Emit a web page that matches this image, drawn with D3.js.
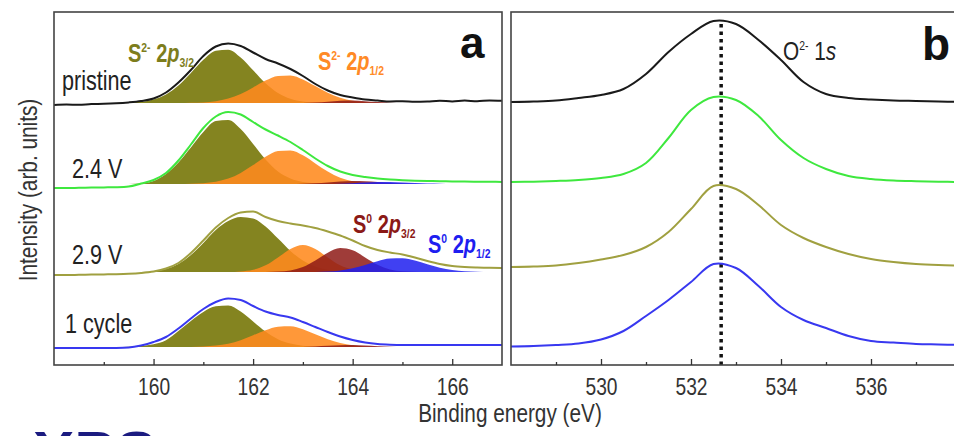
<!DOCTYPE html>
<html>
<head>
<meta charset="utf-8">
<script src="https://cdn.jsdelivr.net/npm/d3@7"></script>
<style>
  body { margin: 0; background: #fff; }
  svg { display: block; }
</style>
</head>
<body>
<svg id="chart" width="954" height="436"></svg>
<script>
// ---- panel a : S 2p region (binding energy, eV) ----
const energyA = [158, 158.25, 158.5, 158.75, 159, 159.25, 159.5, 159.75, 160, 160.25, 160.5, 160.75,
  161, 161.25, 161.5, 161.75, 162, 162.25, 162.5, 162.75, 163, 163.25, 163.5, 163.75,
  164, 164.25, 164.5, 164.75, 165, 165.25, 165.5, 165.75, 166, 166.25, 166.5, 166.75, 167];

// pristine
const pristineEnv  = [-2, -1.5, -1.8, -1, -0.8, -0.3, 0.6, 2, 4.5, 10.5, 20.5, 33, 47, 56.5, 59.5, 57, 50.5, 44, 39.5, 34, 27, 19, 12.5, 8, 5.5, 3.5, 2.5, 1.5, 1.8, 1.2, 1.5, 2.2, 1.6, 2.4, 1.8, 2.5, 2.2];
const pristineS32  = [0, 0, 0, 0, 0, 0, 0.4, 1.2, 3.5, 8.6, 17.5, 30, 43.2, 52.3, 53.3, 45.5, 32.8, 19.8, 10.1, 4.3, 1.5, 0.5, 0.1, 0, 0, 0, 0, 0, 0, 0, 0, 0, 0, 0, 0, 0, 0];
const pristineS12  = [0, 0, 0, 0, 0, 0, 0, 0, 0, 0, 0, 0.2, 0.6, 1.8, 4.5, 9.1, 15.6, 22.4, 27.1, 27.6, 23.6, 17, 10.3, 5.2, 2.2, 0.8, 0.2, 0, 0, 0, 0, 0, 0, 0, 0, 0, 0];
const pristineS032 = [0, 0, 0, 0, 0, 0, 0, 0, 0, 0, 0, 0, 0, 0, 0, 0, 0, 0, 0, 0, 0, 0.5, 1.2, 2.2, 2.5, 1.8, 0.9, 0.3, 0, 0, 0, 0, 0, 0, 0, 0, 0];

// 2.4 V
const v24Env  = [-4, -4, -3.8, -3.6, -3.4, -3.2, -2.5, 0.5, 4, 11, 23.5, 39.5, 56, 67.5, 72, 69.5, 62, 54.5, 48.5, 42, 34, 25.5, 18, 12.5, 9, 7, 5.5, 4.5, 3.8, 3.3, 3, 2.8, 2.6, 2.4, 2.3, 2.2, 2.1];
const v24S32  = [0, 0, 0, 0, 0, 0, 0, 0.5, 3, 10, 21.5, 36.5, 52, 63, 64, 55, 40, 24.5, 12.5, 5.5, 2, 0.7, 0.2, 0, 0, 0, 0, 0, 0, 0, 0, 0, 0, 0, 0, 0, 0];
const v24S12  = [0, 0, 0, 0, 0, 0, 0, 0, 0, 0, 0, 0.2, 0.8, 2.2, 5.4, 11.1, 18.9, 27.2, 32.9, 33.5, 28.7, 20.6, 12.5, 6.3, 2.7, 1, 0.3, 0, 0, 0, 0, 0, 0, 0, 0, 0, 0];
const v24S032 = [0, 0, 0, 0, 0, 0, 0, 0, 0, 0, 0, 0, 0, 0, 0, 0, 0, 0, 0, 0, 0.3, 0.8, 1.6, 2.5, 3, 2.7, 1.9, 1, 0.4, 0.1, 0, 0, 0, 0, 0, 0, 0];
const v24S012 = [0, 0, 0, 0, 0, 0, 0, 0, 0, 0, 0, 0, 0, 0, 0, 0, 0, 0, 0, 0, 0, 0, 0, 0.3, 0.8, 1.5, 2, 2, 1.5, 0.9, 0.4, 0.2, 0, 0, 0, 0, 0];

// 2.9 V
const v29Env  = [-3, -3, -2.8, -2.6, -2.4, -2.2, -1.8, -1, 0.5, 3.5, 9, 19, 31.5, 44.5, 54, 59.5, 60.5, 55, 51, 48.5, 46.5, 44, 40.5, 36.5, 31.5, 26, 22, 19.5, 17.5, 14.5, 11, 8, 6, 5, 4.5, 4.2, 4];
const v29S32  = [0, 0, 0, 0, 0, 0, 0, 0, 0.5, 3, 8, 17, 29, 42, 51, 55, 53.5, 45.5, 33.4, 21.1, 11.5, 5.4, 2.2, 0.8, 0.2, 0, 0, 0, 0, 0, 0, 0, 0, 0, 0, 0, 0];
const v29S12  = [0, 0, 0, 0, 0, 0, 0, 0, 0, 0, 0, 0, 0, 0, 0, 0.6, 2.3, 6.7, 14.6, 23.1, 27, 23.1, 14.6, 6.7, 2.3, 0.6, 0.1, 0, 0, 0, 0, 0, 0, 0, 0, 0, 0];
const v29S032 = [0, 0, 0, 0, 0, 0, 0, 0, 0, 0, 0, 0, 0, 0, 0, 0, 0, 0, 0.4, 1.6, 4.9, 11.4, 19.2, 23.9, 21.7, 14.6, 7.2, 2.6, 0.7, 0.2, 0, 0, 0, 0, 0, 0, 0];
const v29S012 = [0, 0, 0, 0, 0, 0, 0, 0, 0, 0, 0, 0, 0, 0, 0, 0, 0, 0, 0, 0, 0, 0, 0.5, 1.6, 3.7, 7, 10.8, 13.5, 13.8, 11.4, 7.7, 4.2, 1.9, 0.7, 0.2, 0, 0];

// 1 cycle
const c1Env  = [-1, -1, -1, -1, -1, -0.9, -0.5, 1.5, 5, 10, 18.5, 28.5, 38, 45, 48.5, 47, 41, 35.5, 32, 29.5, 25, 20, 15, 10.5, 7, 4.5, 3, 2.3, 2, 2, 2, 2, 2, 2, 2, 2, 2];
const c1S32  = [0, 0, 0, 0, 0, 0, 0.3, 1, 2.8, 6.7, 16, 26, 35, 40.7, 41.4, 35.4, 25.5, 15.4, 7.8, 3.4, 1.2, 0.4, 0.1, 0, 0, 0, 0, 0, 0, 0, 0, 0, 0, 0, 0, 0, 0];
const c1S12  = [0, 0, 0, 0, 0, 0, 0, 0, 0, 0, 0, 0.1, 0.5, 1.4, 3.3, 6.8, 11.7, 16.8, 20.3, 20.7, 17.7, 12.7, 7.7, 3.9, 1.7, 0.6, 0.2, 0, 0, 0, 0, 0, 0, 0, 0, 0, 0];
const c1S032 = [0, 0, 0, 0, 0, 0, 0, 0, 0, 0, 0, 0, 0, 0, 0, 0, 0, 0, 0, 0, 0, 0.5, 1.2, 1.8, 2, 1.5, 0.8, 0.3, 0, 0, 0, 0, 0, 0, 0, 0, 0];

const samplesA = ["pristine", "2.4 V", "2.9 V", "1 cycle"];
const offsetsA = [262, 181, 93, 18];

// ---- panel b : O 1s region ----
const energyB = [528, 528.5, 529, 529.5, 530, 530.5, 531, 531.5, 532, 532.5, 533,
  533.5, 534, 534.5, 535, 535.5, 536, 536.5, 537, 537.5, 538];
const o1sPristine = [0, 0.5, 1.5, 4, 7, 13, 28, 50, 68, 81, 78, 62, 42, 20, 8, 4, 2.5, 1.5, 1, 0.5, 0];
const o1s24V      = [0, 0.3, 1, 2, 4, 8, 19, 44, 72, 85, 82, 66, 42, 24, 13, 6, 3, 1.5, 0.8, 0.3, 0];
const o1s29V      = [0, 0.5, 1.5, 4, 7.5, 12, 20, 35, 58, 81, 78, 62, 42, 29, 20, 13, 8, 5, 3, 2, 1.5];
const o1s1cycle   = [-0.5, 0, 1, 2.5, 6.5, 15, 30, 46, 64, 82, 78, 60, 39, 26, 18, 10, 5, 3.5, 2, 1.5, 1];
const offsetsB = [263, 183, 98, 19];
const o1sPeak = 532.67;

const majorA = [160, 162, 164, 166], minorA = [159, 161, 163, 165];
const majorB = [530, 532, 534, 536], minorB = [529, 531, 533, 535, 537];

const envColors = ["#1a1a1a", "#3ee83e", "#a0a040", "#3838f0"];
const compColors = ["#848420", "#ff8a1e", "#8e1a16", "#1e1ef0"];
const compOpacity = [1, 0.88, 0.85, 0.85];

const SANS = "'Liberation Sans',Arial,sans-serif";
const NARROW_SCALE = 0.8;   // condensed look of the original lettering

const svg = d3.select("#chart");
const xA = d3.scaleLinear().domain([158, 167]).range([54, 502]);
const xB = d3.scaleLinear().domain([528, 538]).range([511, 961]);
const y = d3.scaleLinear().domain([0, 353]).range([365, 12]);

// text squeezed horizontally
function narrow(x, yy, size, rotate) {
  const g = svg.append("g")
    .attr("transform", `translate(${x},${yy})${rotate ? " rotate(" + rotate + ")" : ""} scale(${NARROW_SCALE},1)`);
  return g.append("text")
    .style("font-family", SANS).style("font-size", size + "px");
}

const defs = svg.append("defs");
defs.append("clipPath").attr("id", "clipA").append("rect")
  .attr("x", xA.range()[0]).attr("y", y.range()[1])
  .attr("width", xA.range()[1] - xA.range()[0]).attr("height", y.range()[0] - y.range()[1]);
defs.append("clipPath").attr("id", "clipB").append("rect")
  .attr("x", xB.range()[0]).attr("y", y.range()[1])
  .attr("width", xB.range()[1] - xB.range()[0]).attr("height", y.range()[0] - y.range()[1]);

// panel a spectra
const spectraA = [
  { env: pristineEnv, comps: [pristineS32, pristineS12, pristineS032, null] },
  { env: v24Env, comps: [v24S32, v24S12, v24S032, v24S012] },
  { env: v29Env, comps: [v29S32, v29S12, v29S032, v29S012] },
  { env: c1Env, comps: [c1S32, c1S12, c1S032, null] }
];

const gA = svg.append("g").attr("clip-path", "url(#clipA)");
spectraA.forEach((s, k) => {
  const off = offsetsA[k];
  s.comps.forEach((c, j) => {
    if (!c) return;
    const area = d3.area()
      .x((d, i) => xA(energyA[i]))
      .y0(y(off))
      .y1(d => y(off + d))
      .curve(d3.curveMonotoneX);
    gA.append("path").datum(c)
      .attr("d", area)
      .attr("fill", compColors[j])
      .attr("fill-opacity", compOpacity[j]);
  });
  const line = d3.line()
    .x((d, i) => xA(energyA[i]))
    .y(d => y(off + d))
    .curve(d3.curveMonotoneX);
  gA.append("path").datum(s.env)
    .attr("d", line)
    .attr("fill", "none")
    .attr("stroke", envColors[k])
    .attr("stroke-width", 2);
});

// panel b spectra
const spectraB = [o1sPristine, o1s24V, o1s29V, o1s1cycle];
const gB = svg.append("g").attr("clip-path", "url(#clipB)");
gB.append("line")
  .attr("x1", xB(o1sPeak)).attr("x2", xB(o1sPeak))
  .attr("y1", y(0)).attr("y2", y(offsetsB[0] + 80))
  .attr("stroke", "#111").attr("stroke-width", 3.5)
  .attr("stroke-dasharray", "3.5,4");
spectraB.forEach((s, k) => {
  const off = offsetsB[k];
  const line = d3.line()
    .x((d, i) => xB(energyB[i]))
    .y(d => y(off + d))
    .curve(d3.curveCatmullRom);
  gB.append("path").datum(s)
    .attr("d", line)
    .attr("fill", "none")
    .attr("stroke", envColors[k])
    .attr("stroke-width", 2);
});

// frames
[xA, xB].forEach(x => {
  svg.append("rect")
    .attr("x", x.range()[0]).attr("y", y.range()[1])
    .attr("width", x.range()[1] - x.range()[0])
    .attr("height", y.range()[0] - y.range()[1])
    .attr("fill", "none").attr("stroke", "#444").attr("stroke-width", 1.6);
});

// axes (ticks pointing inward)
function drawAxis(x, major, minor) {
  const gMaj = svg.append("g").attr("transform", `translate(0,${y.range()[0]})`)
    .call(d3.axisBottom(x).tickValues(major).tickSize(-6).tickPadding(13).tickFormat(d3.format("d")));
  const gMin = svg.append("g").attr("transform", `translate(0,${y.range()[0]})`)
    .call(d3.axisBottom(x).tickValues(minor).tickSize(-3).tickFormat(""));
  [gMaj, gMin].forEach(g => {
    g.select(".domain").remove();
    g.selectAll(".tick line").attr("stroke", "#333").attr("stroke-width", 1.3);
  });
  gMaj.selectAll(".tick text")
    .attr("fill", "#333").style("font-family", SANS).style("font-size", "24px")
    .attr("transform", `scale(${NARROW_SCALE},1)`);
}
drawAxis(xA, majorA, minorA);
drawAxis(xB, majorB, minorB);

// axis titles
narrow(510, 422, 26).attr("text-anchor", "middle").attr("fill", "#333")
  .text("Binding energy (eV)");
narrow(37, 190, 26, -90).attr("text-anchor", "middle").attr("fill", "#333")
  .text("Intensity (arb. units)");

// sample labels
const sampleLabelPos = [[62, 90], [72, 178], [72, 264], [65, 333]];
samplesA.forEach((t, k) => {
  narrow(sampleLabelPos[k][0], sampleLabelPos[k][1], 27).attr("fill", "#222").text(t);
});

// peak labels
function peakLabel(x, yy, color, sup, sub) {
  const t = narrow(x, yy, 25).style("font-weight", "bold").attr("fill", color);
  t.append("tspan").text("S");
  t.append("tspan").attr("dy", -10).style("font-size", "13px").text(sup);
  t.append("tspan").attr("dy", 10).text(" 2");
  t.append("tspan").style("font-style", "italic").text("p");
  t.append("tspan").attr("dy", 5).style("font-size", "13px").text(sub);
}
peakLabel(128, 62, "#7d7d1c", "2-", "3/2");
peakLabel(318, 70, "#ff8a26", "2-", "1/2");
peakLabel(353, 233, "#8b1a16", "0", "3/2");
peakLabel(428, 253, "#1e1ef0", "0", "1/2");

// O 1s label
const oLab = narrow(783, 60, 26).attr("fill", "#222");
oLab.append("tspan").text("O");
oLab.append("tspan").attr("dy", -10).style("font-size", "13px").text("2-");
oLab.append("tspan").attr("dy", 10).text(" 1");
oLab.append("tspan").style("font-style", "italic").text("s");

// panel letters
svg.append("text").attr("x", 460).attr("y", 58)
  .style("font-family", SANS).style("font-weight", "bold").style("font-size", "44px")
  .attr("fill", "#111").text("a");
svg.append("text").attr("x", 922).attr("y", 60)
  .style("font-family", SANS).style("font-weight", "bold").style("font-size", "46px")
  .attr("fill", "#111").text("b");

// cut-off heading at the bottom
svg.append("text").attr("x", 33).attr("y", 474)
  .style("font-family", SANS).style("font-weight", "bold").style("font-size", "62px")
  .attr("fill", "#1b1b80").text("XPS");
</script>
</body>
</html>
